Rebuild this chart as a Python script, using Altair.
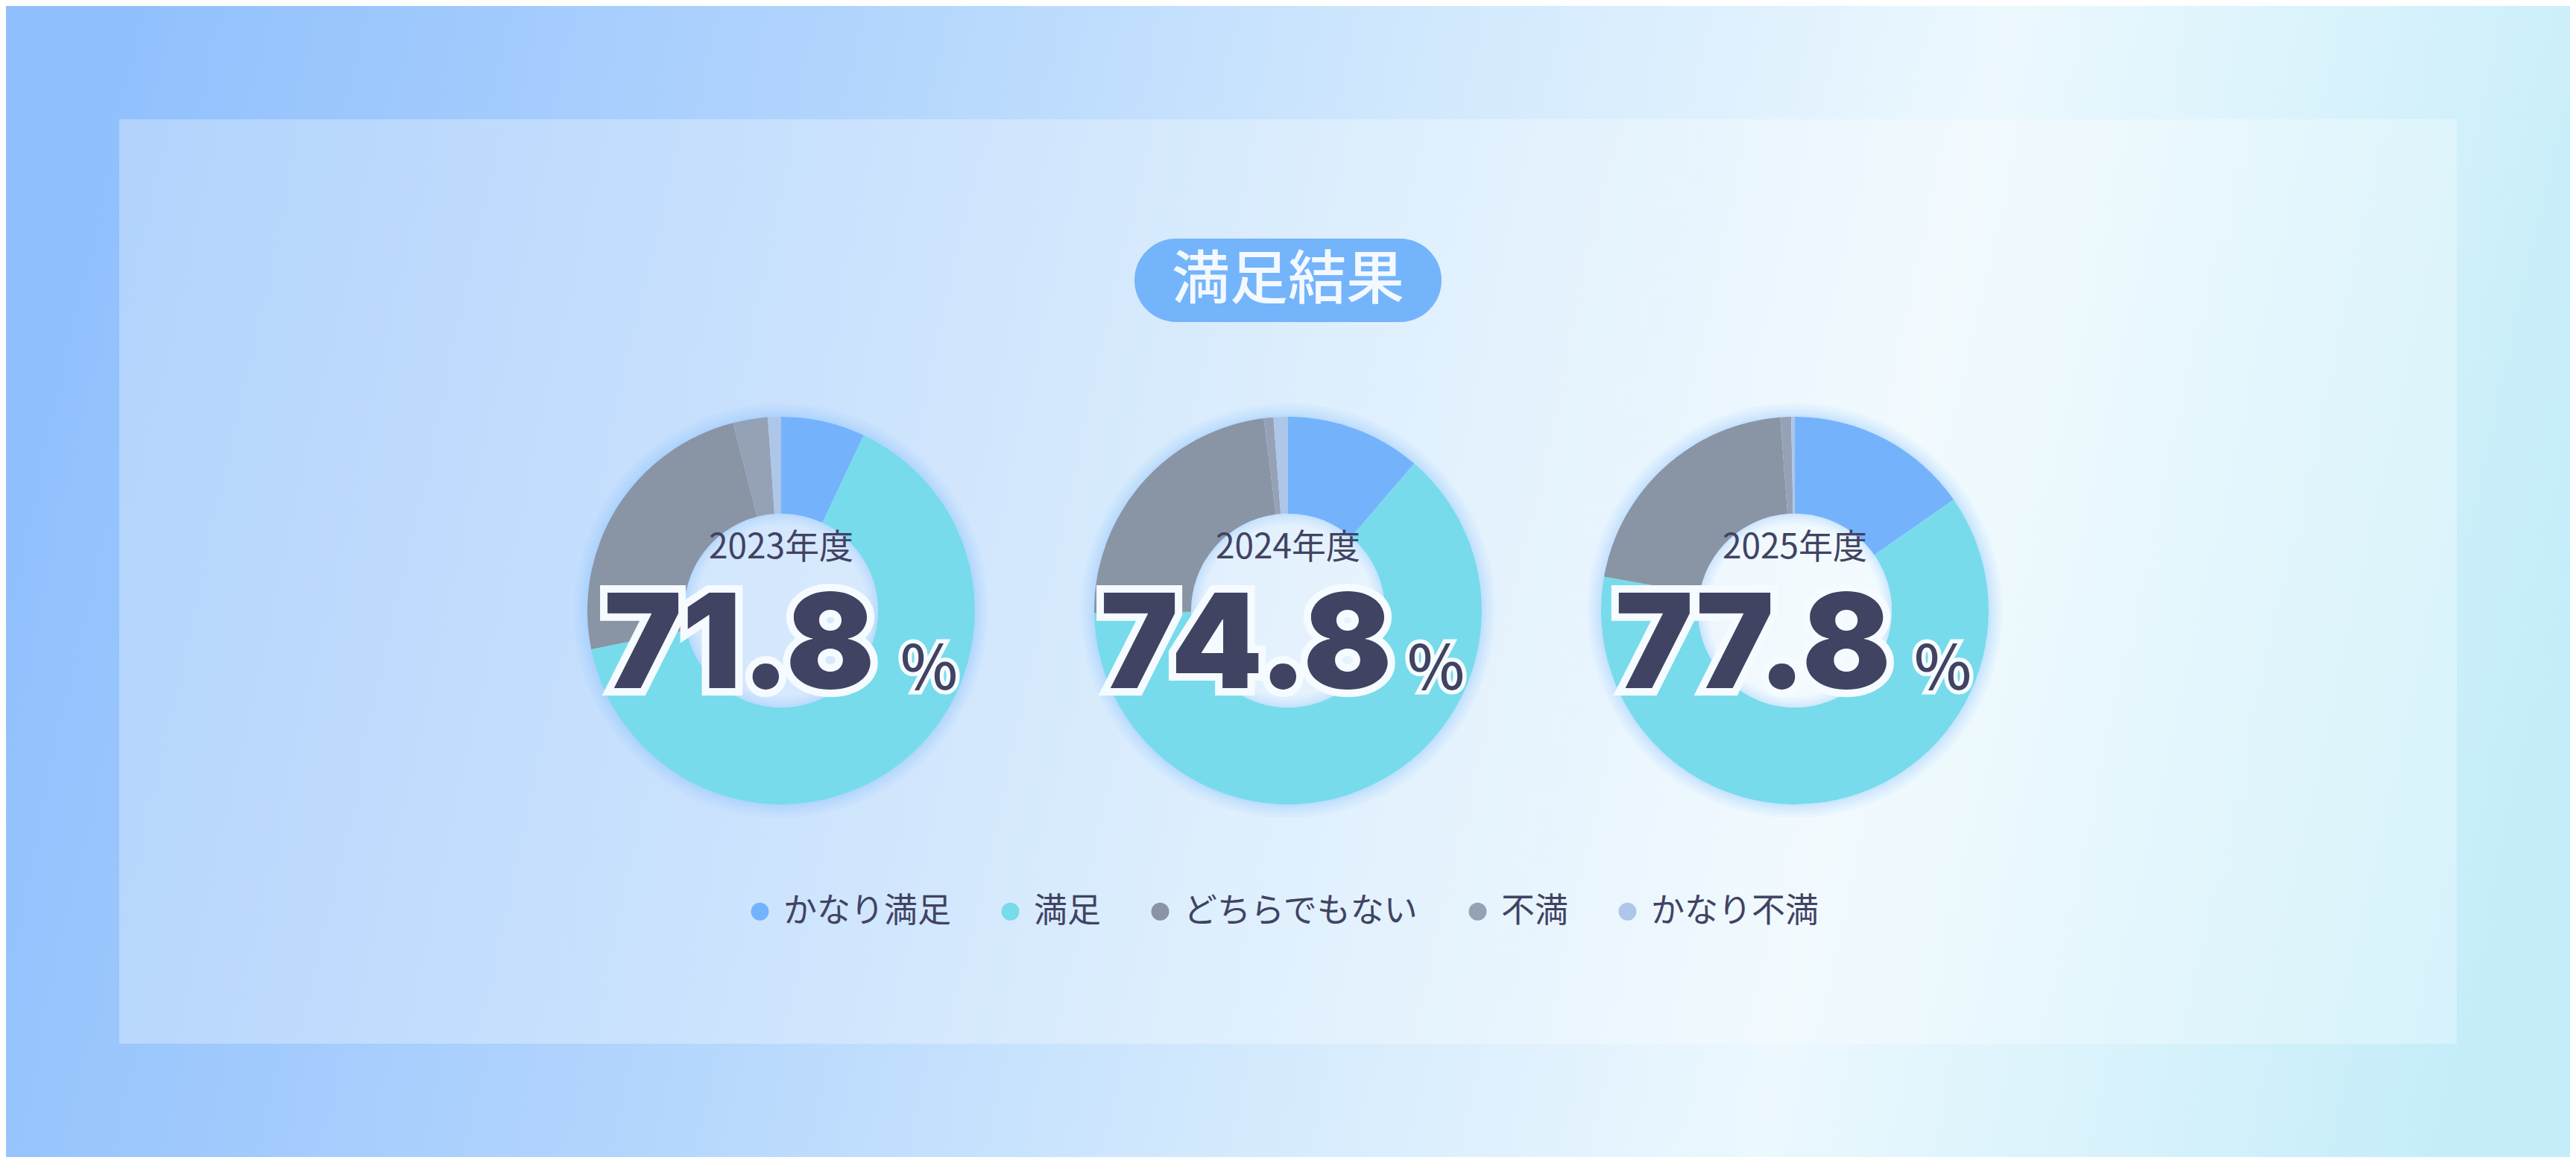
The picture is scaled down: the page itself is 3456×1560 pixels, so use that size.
import math
import altair as alt
import pandas as pd

# ---------------- data ----------------
YEARS = ["2023年度", "2024年度", "2025年度"]
CATEGORIES = ["かなり満足", "満足", "どちらでもない", "不満", "かなり不満"]
SHARE_2023 = [7.0, 64.8, 24.2, 2.9, 1.1]
SHARE_2024 = [11.3, 63.5, 23.2, 0.8, 1.2]
SHARE_2025 = [15.3, 62.5, 21.0, 0.9, 0.3]
SATISFIED = ["かなり満足", "満足"]
TITLE = "満足結果"

# ---------------- style / layout ----------------
COLORS = ["#74b3fc", "#77dbeb", "#8994a5", "#95a2b6", "#aec6e8"]
INK = "#414363"
W, H = 3440, 1544
CX_RANGE = [1040, 2400]
CY = 811
R_OUT, R_IN = 260, 130

rows = []
for year, shares in zip(YEARS, [SHARE_2023, SHARE_2024, SHARE_2025]):
    for i, (cat, v) in enumerate(zip(CATEGORIES, shares)):
        rows.append({"year": year, "cat": cat, "idx": i, "value": v})
df = pd.DataFrame(rows)
years_df = pd.DataFrame({"year": YEARS})
one = alt.Data(values=[{}])

X = alt.X("year:N", scale=alt.Scale(type="point", domain=YEARS, range=CX_RANGE, padding=0), axis=None)

bg = alt.Chart(one).mark_rect(
    color={
        "gradient": "linear", "x1": 0, "y1": 0.45, "x2": 1, "y2": 0.55,
        "stops": [
            {"offset": 0, "color": "#90c0fd"},
            {"offset": 0.3, "color": "#b4d6fd"},
            {"offset": 0.5, "color": "#d0e8fd"},
            {"offset": 0.73, "color": "#ecf8fe"},
            {"offset": 1, "color": "#c4edf9"},
        ],
    }
).encode(x=alt.value(0), x2=alt.value(W), y=alt.value(0), y2=alt.value(H))

panel = alt.Chart(one).mark_rect(color="white", opacity=0.3).encode(
    x=alt.value(152), x2=alt.value(3288), y=alt.value(152), y2=alt.value(1392)
)

pill = alt.Chart(one).mark_rect(color="#74b4fb", cornerRadius=56).encode(
    x=alt.value(1514), x2=alt.value(1926), y=alt.value(312), y2=alt.value(424)
)
title = alt.Chart(one).mark_text(
    text=TITLE, font="Noto Sans CJK JP", fontSize=78, fontWeight=500,
    color="#f3f9ff", align="center", baseline="middle"
).encode(x=alt.value(1720), y=alt.value(370))

layers = [bg, panel, pill, title]

# outer glow
for s in (2, 4, 7, 10, 14, 18):
    layers.append(
        alt.Chart(years_df).mark_arc(
            theta=0, theta2=2 * math.pi, radius=R_OUT + s, radius2=R_OUT,
            color="#7db4fb", opacity=0.06
        ).encode(x=X, y=alt.value(CY))
    )

# hole tint
layers.append(
    alt.Chart(years_df).mark_arc(
        theta=0, theta2=2 * math.pi, radius=R_IN, radius2=0, color="white", opacity=0.2
    ).encode(x=X, y=alt.value(CY))
)
for s in (2, 4, 7, 10, 14):
    layers.append(
        alt.Chart(years_df).mark_arc(
            theta=0, theta2=2 * math.pi, radius=R_IN, radius2=R_IN - s,
            color="#7db4fb", opacity=0.06
        ).encode(x=X, y=alt.value(CY))
    )

arcs = alt.Chart(df).transform_window(
    cum="sum(value)", sort=[alt.SortField("idx")], groupby=["year"], frame=[None, 0]
).transform_calculate(
    start="datum.cum - datum.value"
).mark_arc(radius=R_OUT, radius2=R_IN).encode(
    x=X,
    y=alt.value(CY),
    theta=alt.Theta("start:Q", stack=None,
                    scale=alt.Scale(domain=[0, 100], range=[0, 2 * math.pi])),
    theta2="cum:Q",
    color=alt.Color(
        "cat:N",
        scale=alt.Scale(domain=CATEGORIES, range=COLORS),
        legend=alt.Legend(
            orient="none", legendX=989, legendY=1192, direction="horizontal",
            title=None, symbolType="circle", symbolSize=576, symbolStrokeWidth=0,
            symbolOpacity=1,
            labelFont="Noto Sans CJK JP", labelFontSize=45, labelColor=INK,
            labelOffset=9, columnPadding=56, labelLimit=1000,
        ),
    ),
)
layers.append(arcs)

years_txt = alt.Chart(years_df).mark_text(
    font="Noto Sans CJK JP", fontSize=46, color=INK, align="center", baseline="middle"
).encode(x=X, y=alt.value(727), text="year:N")
layers.append(years_txt)

totals = alt.Chart(df).transform_filter(
    alt.FieldOneOfPredicate(field="cat", oneOf=SATISFIED)
).transform_aggregate(total="sum(value)", groupby=["year"])

num_common = dict(font="Inter", fontWeight=900, fontSize=176, align="center",
                  baseline="alphabetic", dx=-56)
num_stroke = totals.mark_text(
    **num_common, fill="#f5fbff", stroke="#f5fbff", strokeWidth=20, strokeJoin="miter"
).encode(x=X, y=alt.value(915), text=alt.Text("total:Q", format=".1f"))
num_fill = totals.mark_text(**num_common, fill=INK).encode(
    x=X, y=alt.value(915), text=alt.Text("total:Q", format=".1f")
)

pct_common = dict(text="%", font="Noto Sans CJK JP", fontWeight=500, fontSize=82,
                  align="left", baseline="alphabetic", dx=160)
pct_stroke = totals.mark_text(
    **pct_common, fill="#f5fbff", stroke="#f5fbff", strokeWidth=11, strokeJoin="miter"
).encode(x=X, y=alt.value(917))
pct_fill = totals.mark_text(**pct_common, fill=INK).encode(x=X, y=alt.value(917))

layers += [num_stroke, num_fill, pct_stroke, pct_fill]

chart = alt.layer(*layers).properties(
    width=W, height=H, autosize=alt.AutoSizeParams(type="none"), padding=0
).configure_view(stroke=None).configure(background="#90c0fd")

chart.save("out.html", embed_options={"renderer": "svg", "actions": False})
